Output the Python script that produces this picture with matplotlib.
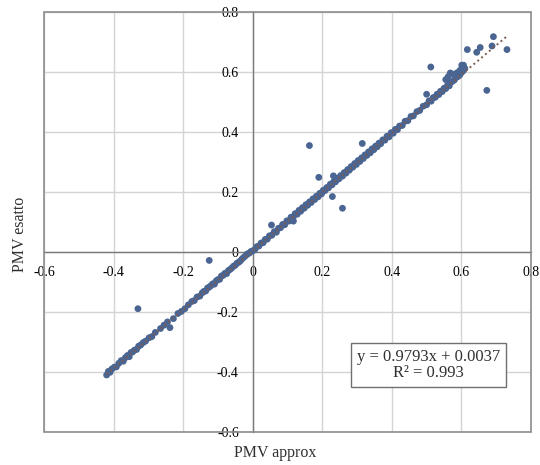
import matplotlib
matplotlib.use("Agg")
import matplotlib.pyplot as plt
from matplotlib.patches import Rectangle

# PMV approx (x) vs PMV esatto (y)
pmv_approx = [
    -0.420, -0.415, -0.410, -0.405, -0.398, -0.392, -0.385, -0.378, -0.372, -0.366,
    -0.360, -0.355, -0.350, -0.345, -0.340, -0.334, -0.328, -0.322, -0.315, -0.308,
    -0.298, -0.290, -0.280, -0.265, -0.255, -0.245, -0.238, -0.228, -0.215, -0.205,
    -0.195, -0.185, -0.175, -0.168, -0.160, -0.152,
    -0.145, -0.140, -0.135, -0.130, -0.125, -0.120, -0.115, -0.110, -0.105, -0.100,
    -0.095, -0.090, -0.085, -0.080, -0.075, -0.070, -0.065, -0.060, -0.055, -0.050,
    -0.045, -0.040, -0.035, -0.030, -0.025, -0.020, -0.015, -0.010, -0.005,
    0.000, 0.006, 0.012, 0.018, 0.024, 0.030, 0.036, 0.042, 0.048, 0.055,
    0.062, 0.068, 0.074, 0.080, 0.086, 0.092, 0.098, 0.104, 0.110, 0.116,
    0.117, 0.122, 0.128, 0.133, 0.138, 0.143, 0.148, 0.153, 0.158, 0.163,
    0.168, 0.173, 0.178, 0.183, 0.188, 0.193, 0.198,
    0.203, 0.208, 0.213, 0.218, 0.223, 0.228, 0.233, 0.238, 0.243, 0.248,
    0.253, 0.258, 0.263, 0.268, 0.273, 0.278, 0.283, 0.288, 0.293, 0.298,
    0.303, 0.308, 0.313, 0.318, 0.323, 0.328, 0.333, 0.338, 0.343, 0.348,
    0.353, 0.358, 0.363, 0.368, 0.374, 0.380, 0.386, 0.392, 0.398, 0.404,
    0.410, 0.416, 0.422, 0.430, 0.438, 0.446,
    0.455, 0.462, 0.472, 0.480, 0.490, 0.500, 0.507, 0.513, 0.519, 0.525,
    0.530, 0.535, 0.540, 0.545, 0.550, 0.555, 0.560, 0.565, 0.570, 0.575,
    0.580, 0.585, 0.590, 0.595, 0.600, 0.605, 0.610,
    0.555, 0.562, 0.568, 0.578, 0.588, 0.596, 0.601, 0.606,
    # points away from the main band
    0.163, 0.315, 0.190, 0.232, 0.229, 0.258, 0.054, 0.500, 0.512,
    -0.125, -0.330, 0.617, 0.644, 0.654, 0.688, 0.692, 0.731, 0.673,
]

pmv_esatto = [
    -0.410, -0.398, -0.401, -0.390, -0.384, -0.383, -0.371, -0.362, -0.364, -0.352,
    -0.345, -0.349, -0.335, -0.333, -0.327, -0.325, -0.314, -0.310, -0.302, -0.297,
    -0.286, -0.282, -0.268, -0.255, -0.244, -0.233, -0.252, -0.222, -0.205, -0.198,
    -0.189, -0.176, -0.165, -0.162, -0.150, -0.147,
    -0.136, -0.131, -0.130, -0.120, -0.117, -0.112, -0.106, -0.107, -0.096, -0.092,
    -0.091, -0.080, -0.078, -0.071, -0.072, -0.062, -0.058, -0.053, -0.047, -0.044,
    -0.037, -0.034, -0.029, -0.022, -0.017, -0.012, -0.006, -0.004, 0.002,
    0.004, 0.008, 0.018, 0.020, 0.030, 0.031, 0.042, 0.043, 0.054, 0.056,
    0.068, 0.066, 0.079, 0.081, 0.092, 0.091, 0.104, 0.103, 0.116, 0.114,
    0.103, 0.128, 0.126, 0.139, 0.136, 0.148, 0.146, 0.158, 0.156, 0.167,
    0.165, 0.177, 0.175, 0.186, 0.184, 0.196, 0.194,
    0.206, 0.205, 0.215, 0.214, 0.226, 0.224, 0.235, 0.234, 0.246, 0.244,
    0.255, 0.253, 0.265, 0.263, 0.275, 0.273, 0.285, 0.283, 0.295, 0.292,
    0.305, 0.302, 0.314, 0.312, 0.324, 0.322, 0.334, 0.331, 0.344, 0.341,
    0.353, 0.351, 0.363, 0.361, 0.374, 0.373, 0.386, 0.384, 0.398, 0.396,
    0.409, 0.408, 0.420, 0.422, 0.436, 0.438,
    0.452, 0.454, 0.468, 0.472, 0.486, 0.491, 0.504, 0.503, 0.515, 0.516,
    0.526, 0.525, 0.536, 0.535, 0.546, 0.545, 0.556, 0.554, 0.566, 0.570,
    0.574, 0.583, 0.585, 0.590, 0.598, 0.604, 0.612,
    0.575, 0.585, 0.597, 0.593, 0.598, 0.606, 0.623, 0.623,
    0.355, 0.362, 0.249, 0.254, 0.185, 0.146, 0.090, 0.526, 0.617,
    -0.028, -0.189, 0.675, 0.666, 0.682, 0.687, 0.718, 0.675, 0.539,
]

# Linear trendline coefficients and goodness of fit
slope = 0.9793
intercept = 0.0037
r_squared = 0.993

ticks = [-0.6, -0.4, -0.2, 0.0, 0.2, 0.4, 0.6, 0.8]
tick_labels = ["-0.6", "-0.4", "-0.2", "0", "0.2", "0.4", "0.6", "0.8"]

plt.rcParams["font.family"] = ["Liberation Serif", "DejaVu Serif"]

fig = plt.figure(figsize=(5.4, 4.65), dpi=100)
fig.patch.set_facecolor("white")
ax = fig.add_axes([0.0815, 0.071, 0.9018, 0.903])
ax.set_xlim(-0.6, 0.8)
ax.set_ylim(-0.6, 0.8)

ax.set_xticks(ticks)
ax.set_yticks(ticks)
ax.set_xticklabels(tick_labels, fontsize=12, color="#404040")
ax.set_yticklabels(tick_labels, fontsize=12, color="#404040")
ax.grid(True, color="#d4d4d4", linewidth=1.0, zorder=0)
ax.set_axisbelow(True)

# axes crossing at the origin
for side in ("top", "right"):
    ax.spines[side].set_visible(False)
ax.spines["left"].set_position("zero")
ax.spines["bottom"].set_position("zero")
for side in ("left", "bottom"):
    ax.spines[side].set_color("#7a7a7a")
    ax.spines[side].set_linewidth(1.0)
    ax.spines[side].set_zorder(1)
ax.tick_params(axis="x", length=0, pad=10)
ax.tick_params(axis="y", length=0, pad=10)

# outer plot frame
ax.add_patch(Rectangle((0, 0), 1, 1, transform=ax.transAxes, fill=False,
                       edgecolor="#8c8c8c", linewidth=1.2, zorder=5, clip_on=False))

ax.scatter(pmv_approx, pmv_esatto, s=24, color="#4a6592", edgecolors="none", zorder=3)

x_fit = [min(pmv_approx), max(pmv_approx)]
y_fit = [slope * v + intercept for v in x_fit]
ax.plot(x_fit, y_fit, linestyle=(0, (1, 1.6)), color="#7d5a50", linewidth=1.4, zorder=4)

ax.text(0.506, -0.377,
        f"y = {slope:.4f}x + {intercept:.4f}\nR\u00b2 = {r_squared:.3f}",
        fontsize=12, color="#303030", ha="center", va="center", linespacing=1.05,
        bbox=dict(boxstyle="square,pad=0.35", facecolor="white", edgecolor="#707070",
                  linewidth=1.0), zorder=6)

fig.text(20 / 540, 1 - 234 / 465, "PMV esatto", rotation=90, fontsize=11.5,
         color="#303030", ha="center", va="center")
fig.text(275 / 540, 1 - 453 / 465, "PMV approx", fontsize=11.5,
         color="#303030", ha="center", va="center")

fig.savefig("out.png", dpi=100)
